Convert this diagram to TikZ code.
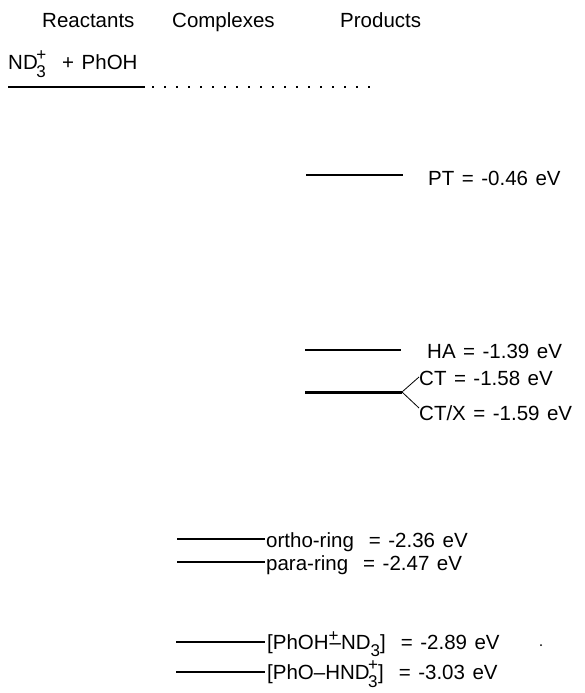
\documentclass[tikz,border=0pt]{standalone}
\usepackage{fontspec}
\setmainfont{Liberation Sans}
\newcommand{\supsub}[2]{\rlap{\raisebox{-8pt}{\fontsize{17}{17}\selectfont #1}}\raisebox{9pt}{\fontsize{17}{17}\selectfont #2}}
\newcommand{\lblfont}{\fontsize{20.5}{24}\selectfont\spaceskip=7.5pt\relax}
\begin{document}
\begin{tikzpicture}[x=1pt,y=-1pt,
  lbl/.style={inner sep=0pt,anchor=base west,font=\lblfont},
  lvl/.style={line width=1.5pt},
  lvlthick/.style={line width=3pt},
  brk/.style={line width=0.8pt}]
\useasboundingbox (0,0) rectangle (585,693);
% headers
\node[lbl] (hR) at (42,28) {Reactants};
\node[lbl] (hC) at (172,28) {Complexes};
\node[lbl] (hP) at (340,28) {Products};
% reactants
\node[lbl] (react) at (8,70) {ND\kern-1.5pt\supsub{3}{+}\hspace{16pt}+ PhOH};
\coordinate (r1) at (8,87); \coordinate (r2) at (145,87);
\coordinate (d1) at (152,87); \coordinate (d2) at (372,87);
\draw[lvl] (r1) -- (r2);
\draw[line width=1.5pt,dash pattern=on 1.5pt off 10.5pt] (d1) -- (d2);
% products
\coordinate (pt1) at (306,175); \coordinate (pt2) at (403,175);
\draw[lvl] (pt1) -- (pt2);
\node[lbl] (ptl) at (428,185) {PT = -0.46 eV};
\coordinate (ha1) at (305,350); \coordinate (ha2) at (401,350);
\draw[lvl] (ha1) -- (ha2);
\node[lbl] (hal) at (427,358) {HA = -1.39 eV};
\coordinate (ct1) at (305,392); \coordinate (ct2) at (402,392);
\draw[lvlthick] (ct1) -- (ct2);
\node[lbl] (ctl) at (419,385) {CT = -1.58 eV};
\node[lbl] (ctxl) at (419,420) {CT/X = -1.59 eV};
\coordinate (cta) at (419,377); \coordinate (ctb) at (419,408);
\draw[brk] (cta) -- (ct2) -- (ctb);
% complexes
\coordinate (o1) at (177,539); \coordinate (o2) at (265,539);
\draw[lvl] (o1) -- (o2);
\node[lbl] (ol) at (266,547) {ortho-ring\ \ = -2.36 eV};
\coordinate (p1) at (177,562); \coordinate (p2) at (265,562);
\draw[lvl] (p1) -- (p2);
\node[lbl] (pl) at (266,570) {para-ring\ \ = -2.47 eV};
\coordinate (c1) at (176,642); \coordinate (c2) at (265,642);
\draw[lvl] (c1) -- (c2);
\node[lbl] (cl) at (267,649) {[PhOH\rlap{\raisebox{8pt}{\fontsize{17}{17}\selectfont +}}\kern1pt--ND\raisebox{-7pt}{\fontsize{17}{17}\selectfont 3}]\ \ = -2.89 eV};
\coordinate (e1) at (176,672); \coordinate (e2) at (265,672);
\draw[lvl] (e1) -- (e2);
\node[lbl] (el) at (267,679) {[PhO--HND\kern-1.5pt\supsub{3}{+}]\ \ = -3.03 eV};
% stray dot
\fill (541,645) circle (1pt);
\end{tikzpicture}
\end{document}
